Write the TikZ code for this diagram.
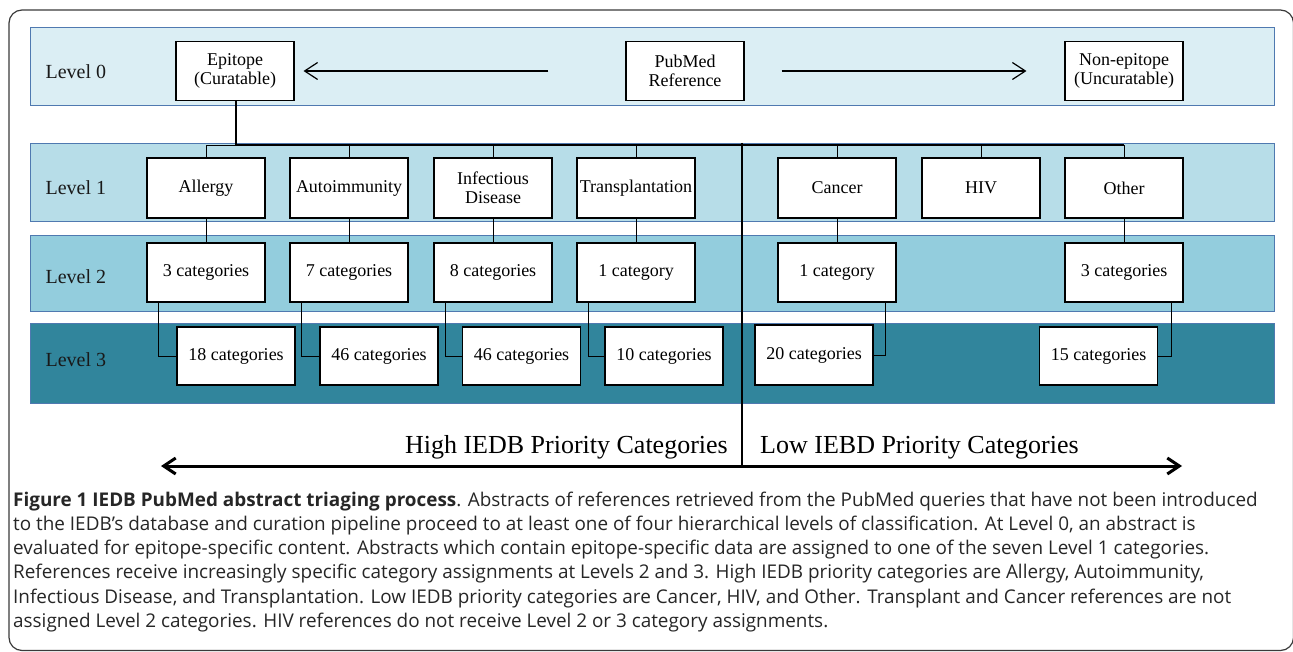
\documentclass[tikz,border=0pt]{standalone}
\usepackage{fontspec}
\setmainfont{Liberation Serif}
\newfontfamily\capfont{Open Sans}
\usetikzlibrary{arrows.meta}
\definecolor{bandA}{HTML}{DBEEF4}
\definecolor{bandB}{HTML}{B7DDE8}
\definecolor{bandC}{HTML}{93CDDD}
\definecolor{bandD}{HTML}{31859C}
\definecolor{bandline}{HTML}{4F79B0}
\definecolor{frameline}{HTML}{3A3A3A}
\tikzset{
  band/.style={draw=bandline, line width=0.9pt},
  box/.style={draw=black, fill=white, line width=1.1pt, minimum width=118pt, minimum height=59pt,
    align=center, inner sep=0pt, font=\fontsize{18}{19}\selectfont},
  lvl/.style={anchor=west, font=\fontsize{20}{22}\selectfont, text=black!90},
  conn/.style={draw=black, line width=1pt},
  bus/.style={draw=black, line width=2pt},
  smallarr/.style={draw=black, line width=1.2pt, -{Straight Barb[length=13pt,width=17pt]}},
  bigarr/.style={draw=black, line width=3pt, {Straight Barb[length=12pt,width=16pt]}-{Straight Barb[length=12pt,width=16pt]}},
  prio/.style={font=\fontsize{26}{28}\selectfont},
  captext/.style={anchor=base west, inner sep=0pt, font=\capfont\fontsize{18.9}{20}\selectfont, text=black!85}
}
\begin{document}
\begin{tikzpicture}[x=1pt,y=-1pt]
\useasboundingbox (0,0) rectangle (1293,652);
% outer frame
\draw[frameline, line width=1.2pt, rounded corners=13pt] (9,10) rectangle (1293.5,650.5);
% bands
\path[band, fill=bandA] (30,27) rectangle (1274,105);
\path[band, fill=bandB] (30,143.5) rectangle (1274,221);
\path[band, fill=bandC] (30,235) rectangle (1274,311);
\path[band, fill=bandD] (30,323.5) rectangle (1274,403);
% level labels
\node[lvl] (l0) at (42,72) {Level 0};
\node[lvl] (l1) at (42,188) {Level 1};
\node[lvl] (l2) at (42,277) {Level 2};
\node[lvl] (l3) at (42,360) {Level 3};
% level 0
\node[box] (epi) at (235,71) {Epitope\\(Curatable)};
\node[box] (pub) at (685,71) {PubMed\\Reference};
\node[box] (non) at (1124,71) {Non-epitope\\(Uncuratable)};
\draw[smallarr] ([xshift=-77pt]pub.west) -- ([xshift=9pt]epi.east);
\draw[smallarr] ([xshift=37pt]pub.east) -- ([xshift=-38pt]non.west);
% level 1
\node[box, minimum height=60pt] (all1) at (206,188) {Allergy};
\node[box, minimum height=60pt] (aut1) at (349,188) {Autoimmunity};
\node[box, minimum height=60pt] (inf1) at (493,188) {Infectious\\Disease};
\node[box, minimum height=60pt] (tra1) at (636,188) {Transplantation};
\node[box, minimum height=60pt] (can1) at (837,188) {Cancer};
\node[box, minimum height=60pt] (hiv1) at (981,188) {HIV};
\node[box, minimum height=60pt] (oth1) at (1124,188) {Other};
% bus
\coordinate (busL) at (206,145.5);
\coordinate (busE) at (236,145.5);
\coordinate (busR) at (1124,145.5);
\draw[conn] (busL) -- (busE);
\draw[bus] (epi.south -| busE) -- (busE) -- (busR);
\foreach \n in {all1,aut1,inf1,tra1,can1,hiv1,oth1}{
  \draw[conn] (\n.north) -- (\n.north |- busE);
}
% level 2
\node[box] (all2) at (206,272.5) {3 categories};
\node[box] (aut2) at (349,272.5) {7 categories};
\node[box] (inf2) at (493,272.5) {8 categories};
\node[box] (tra2) at (636,272.5) {1 category};
\node[box] (can2) at (837,272.5) {1 category};
\node[box] (oth2) at (1124,272.5) {3 categories};
\foreach \a/\b in {all1/all2,aut1/aut2,inf1/inf2,tra1/tra2,can1/can2,oth1/oth2}{
  \draw[conn] (\a.south) -- (\b.north);
}
% level 3
\node[box, minimum height=58pt] (all3) at (236,356) {18 categories};
\node[box, minimum height=58pt] (aut3) at (379,356) {46 categories};
\node[box, minimum height=58pt] (inf3) at (521.5,356) {46 categories};
\node[box, minimum height=58pt] (tra3) at (664,356) {10 categories};
\node[box, minimum height=60pt] (can3) at (814,355) {20 categories};
\node[box, minimum height=58pt] (oth3) at (1098.5,356) {15 categories};
\foreach \a/\b in {all2/all3,aut2/aut3,inf2/inf3,tra2/tra3}{
  \draw[conn] ([xshift=-48pt]\a.south) |- (\b.west);
}
\draw[conn] ([xshift=48pt]can2.south) |- (can3.east);
\draw[conn] ([xshift=47pt]oth2.south) |- (oth3.east);
% divider and priority arrow
\coordinate (divT) at (741.5,143);
\coordinate (divB) at (741.5,468);
\draw[bus] (divT) -- (divB);
\coordinate (arrL) at (161,466);
\coordinate (arrR) at (1182,466);
\draw[bigarr] (arrL) -- (arrR);
\node[prio, anchor=base east, inner sep=0pt] (high) at (728,453) {High IEDB Priority Categories};
\node[prio, anchor=base west, inner sep=0pt] (low) at (760,453) {Low IEBD Priority Categories};
% caption
\node[captext] (c1) at (13,506) {\textbf{Figure 1 IEDB PubMed abstract triaging process}. Abstracts of references retrieved from the PubMed queries that have not been introduced};
\node[captext] (c2) at (13,530.3) {to the IEDB’s database and curation pipeline proceed to at least one of four hierarchical levels of classification. At Level 0, an abstract is};
\node[captext] (c3) at (13,554.6) {evaluated for epitope-specific content. Abstracts which contain epitope-specific data are assigned to one of the seven Level 1 categories.};
\node[captext] (c4) at (13,578.9) {References receive increasingly specific category assignments at Levels 2 and 3. High IEDB priority categories are Allergy, Autoimmunity,};
\node[captext] (c5) at (13,603.2) {Infectious Disease, and Transplantation. Low IEDB priority categories are Cancer, HIV, and Other. Transplant and Cancer references are not};
\node[captext] (c6) at (13,627.5) {assigned Level 2 categories. HIV references do not receive Level 2 or 3 category assignments.};
\end{tikzpicture}
\end{document}
